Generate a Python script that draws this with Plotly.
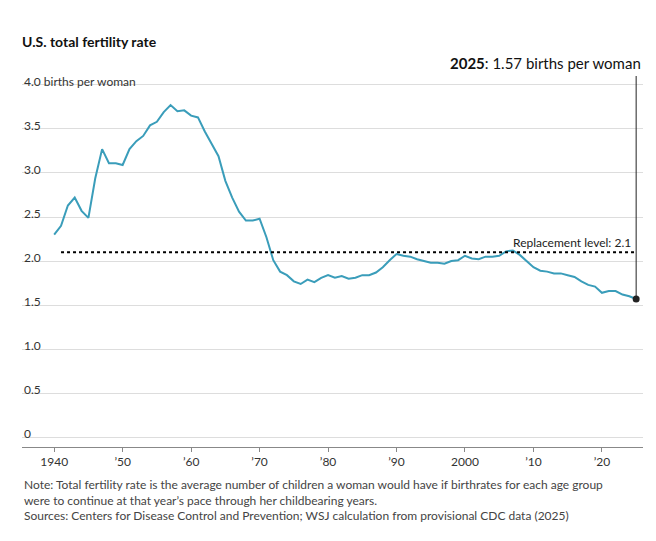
import plotly.graph_objects as go

years = list(range(1940, 2026))
tfr = [2.30,2.40,2.63,2.72,2.57,2.49,2.94,3.27,3.11,3.11,3.09,3.27,3.36,3.42,3.54,3.58,3.69,3.77,3.70,3.71,
       3.65,3.63,3.47,3.33,3.19,2.91,2.72,2.56,2.46,2.46,2.48,2.27,2.01,1.88,1.84,1.77,1.74,1.79,1.76,1.81,
       1.84,1.81,1.83,1.80,1.81,1.84,1.84,1.87,1.93,2.01,2.08,2.06,2.05,2.02,2.00,1.98,1.98,1.97,2.00,2.01,
       2.06,2.03,2.02,2.05,2.05,2.06,2.11,2.12,2.07,2.00,1.93,1.89,1.88,1.86,1.86,1.84,1.82,1.77,1.73,1.71,
       1.64,1.66,1.66,1.62,1.60,1.57]
xticks = [1940,1950,1960,1970,1980,1990,2000,2010,2020]
xlabels = ["1940","’50","’60","’70","’80","’90","2000","’10","’20"]
yticks = [0,0.5,1.0,1.5,2.0,2.5,3.0,3.5,4.0]
ylabels = ["0","0.5","1.0","1.5","2.0","2.5","3.0","3.5","4.0 births per woman"]
replacement = 2.1

fig = go.Figure()
fig.add_trace(go.Scatter(x=years, y=tfr, mode="lines", line=dict(color="#3a9dba", width=2), hoverinfo="skip"))
fig.add_trace(go.Scatter(x=[1941, 2025], y=[replacement, replacement], mode="lines",
                         line=dict(color="black", width=2, dash="dot"), hoverinfo="skip"))
fig.add_trace(go.Scatter(x=[years[-1]], y=[tfr[-1]], mode="markers", marker=dict(color="#222", size=7)))
fig.add_shape(type="line", x0=years[-1], x1=years[-1], y0=tfr[-1], y1=4.1, line=dict(color="#222", width=1))

for v, l in zip(yticks, ylabels):
    fig.add_annotation(x=0, xref="paper", y=v, yref="y", text=l, showarrow=False,
                       xanchor="left", yanchor="bottom", font=dict(size=12, color="#333"), yshift=-6)

fig.add_annotation(x=2024.5, y=replacement, text="Replacement level: 2.1", showarrow=False,
                   xanchor="right", yanchor="bottom", font=dict(size=12, color="#222"))
fig.add_annotation(x=1, xref="paper", y=4.1, text="<b>2025</b>: 1.57 births per woman", showarrow=False,
                   xanchor="right", yanchor="bottom", font=dict(size=15, color="#111"), yshift=2)

fig.update_layout(
    width=656, height=541, margin=dict(l=14, r=21, t=68, b=102),
    plot_bgcolor="white", paper_bgcolor="white", showlegend=False,
    font=dict(family="Lato, sans-serif", color="#333"),
    title=dict(text="<b>U.S. total fertility rate</b>", x=14/656, xanchor="left", y=1-34/541, yanchor="middle",
               font=dict(size=14, color="#111")),
    xaxis=dict(range=[1935.3, 2026], tickvals=xticks, ticktext=xlabels, showgrid=False,
               showline=True, linecolor="#888", ticks="outside", ticklen=4, tickcolor="#888",
               tickfont=dict(size=12, color="#333"), zeroline=False),
    yaxis=dict(range=[-0.11, 4.1], tickvals=yticks, showticklabels=False, showgrid=True,
               gridcolor="#ddd", zeroline=False),
)
fig.add_annotation(x=0, xref="paper", y=-0.075, yref="paper", xanchor="left", yanchor="top", align="left",
                   text="Note: Total fertility rate is the average number of children a woman would have if birthrates for each age group<br>were to continue at that year’s pace through her childbearing years.<br>Sources: Centers for Disease Control and Prevention; WSJ calculation from provisional CDC data (2025)",
                   showarrow=False, font=dict(size=12, color="#444"))
fig.write_html("out.html")
